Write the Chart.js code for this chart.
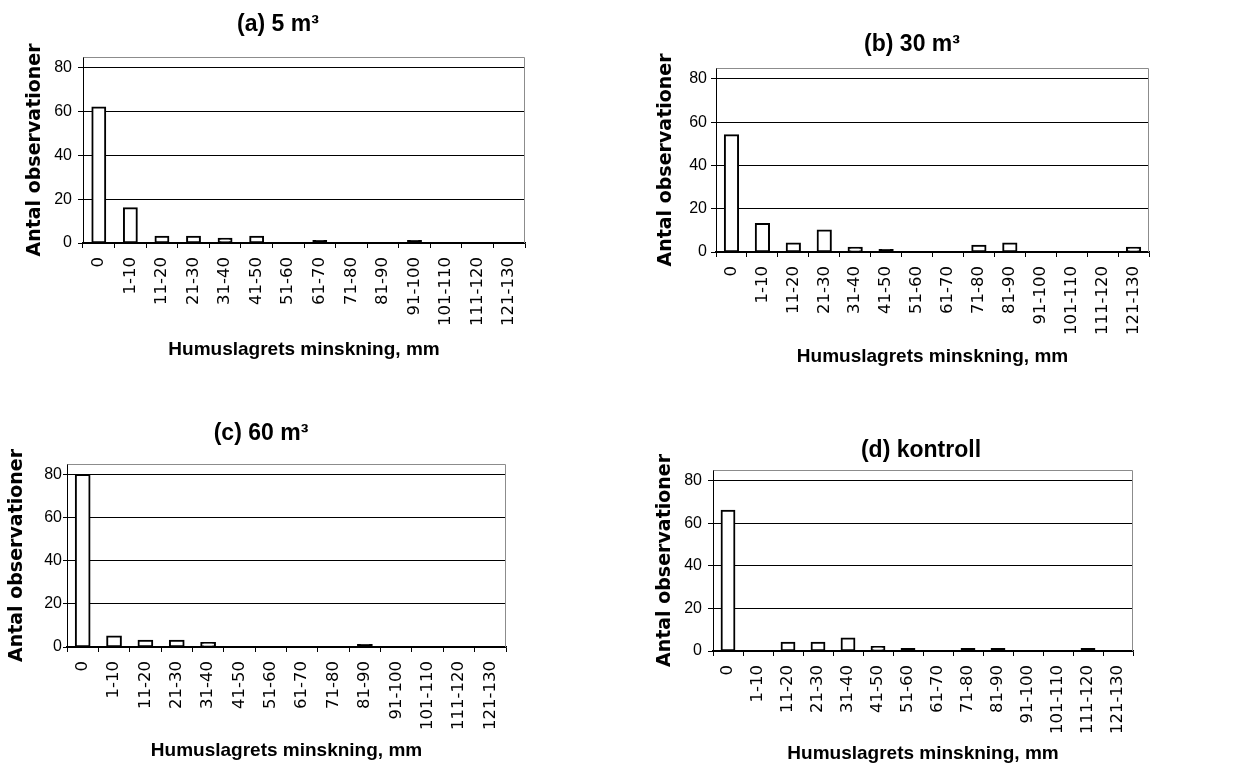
<!DOCTYPE html>
<html><head><meta charset="utf-8">
<script src="https://cdn.jsdelivr.net/npm/chart.js@4.4.1/dist/chart.umd.min.js"></script>
<style>
html,body{margin:0;padding:0;background:#fff;width:1258px;height:767px;overflow:hidden;}
.p{position:absolute;}
</style></head><body>
<div class="p" style="left:0px;top:0px;width:629px;height:385px"><canvas id="ca"></canvas></div>
<div class="p" style="left:629px;top:0px;width:629px;height:385px"><canvas id="cb"></canvas></div>
<div class="p" style="left:0px;top:385px;width:629px;height:382px"><canvas id="cc"></canvas></div>
<div class="p" style="left:629px;top:385px;width:629px;height:382px"><canvas id="cd"></canvas></div>
<script>
// ---- data ----
const categories = ['0','1-10','11-20','21-30','31-40','41-50','51-60','61-70','71-80','81-90','91-100','101-110','111-120','121-130'];
const yTickValues = [0, 20, 40, 60, 80];
const yMax = 85;
const titleA = '(a) 5 m³';
const titleB = '(b) 30 m³';
const titleC = '(c) 60 m³';
const titleD = '(d) kontroll';
const xAxisTitle = 'Humuslagrets minskning, mm';
const yAxisTitle = 'Antal observationer';
const valuesA = [62, 16, 3, 3, 2, 3, 0, 1, 0, 0, 1, 0, 0, 0];
const valuesB = [54, 13, 4, 10, 2, 1, 0, 0, 3, 4, 0, 0, 0, 2];
const valuesC = [80, 5, 3, 3, 2, 0, 0, 0, 0, 1, 0, 0, 0, 0];
const valuesD = [66, 0, 4, 4, 6, 2, 1, 0, 1, 1, 0, 0, 1, 0];

// ---- layout / styling ----
const layoutA = {yw:83, ytl:5, ytp:6, ytt:24.2, tpt:11.2, tpb:18.2, tx:278, xh:142, xtpb:23.6, pr:104, bp:0.42};
const layoutB = {yw:87, ytl:5, ytp:4, ytt:26.2, tpt:31.2, tpb:9.2, tx:283, xh:133, xtpb:16.6, pr:109, bp:0.44};
const layoutC = {yw:67, ytl:4, ytp:1, ytt:6.2, tpt:35.2, tpb:16.2, tx:261, xh:120, xtpb:4.6, pr:123, bp:0.45};
const layoutD = {yw:84, ytl:5, ytp:6, ytt:25.2, tpt:52.2, tpb:5.2, tx:292, xh:116, xtpb:1.6, pr:125, bp:0.44};

const ARIAL = "'Liberation Sans', Arial, sans-serif";
const WIDE = "'DejaVu Sans', 'Liberation Sans', sans-serif";

const framePlugin = {
  id: 'frame',
  afterLayout(chart, args, opts) {
    const t = chart.titleBlock;
    if (t && opts.titleX != null) {
      t.left = opts.titleX - 200;
      t.right = opts.titleX + 200;
      t.width = 400;
    }
  },
  beforeDatasetsDraw(chart, args, opts) {
    const {ctx, chartArea: a} = chart;
    ctx.save();
    ctx.strokeStyle = opts.color || '#8c8c8c';
    ctx.lineWidth = 1;
    const l = Math.round(a.left) + 0.5, t = Math.round(a.top) + 0.5;
    const r = Math.round(a.right) - 0.5, b = Math.round(a.bottom);
    ctx.beginPath();
    ctx.moveTo(l, t); ctx.lineTo(r, t); ctx.lineTo(r, b);
    ctx.stroke();
    ctx.restore();
  }
};

function makeChart(id, title, values, g) {
  return new Chart(document.getElementById(id), {
    type: 'bar',
    data: {
      labels: categories,
      datasets: [{
        data: values,
        // very short bars render as solid outline (thick border fills them)
        backgroundColor: c => (c.raw != null && c.raw <= 1) ? '#000000' : '#ffffff',
        borderColor: '#000000',
        borderWidth: 2,
        borderSkipped: false,
        inflateAmount: 0.8,
        barPercentage: g.bp,
        categoryPercentage: 1
      }]
    },
    plugins: [framePlugin],
    options: {
      responsive: true,
      maintainAspectRatio: false,
      animation: false,
      layout: {padding: {left: 0, top: 0, right: g.pr, bottom: 0}},
      plugins: {
        legend: {display: false},
        tooltip: {enabled: false},
        frame: {titleX: g.tx, color: '#8c8c8c'},
        title: {
          display: true,
          text: title,
          color: '#000',
          font: {family: ARIAL, size: 23, weight: 'bold', lineHeight: 1.2},
          padding: {top: g.tpt, bottom: g.tpb}
        }
      },
      scales: {
        x: {
          offset: true,
          grid: {display: true, drawOnChartArea: false, drawTicks: true, tickLength: 5, tickColor: '#000', offset: true},
          border: {display: true, color: '#000', width: 1.5},
          ticks: {autoSkip: false, minRotation: 90, maxRotation: 90, padding: 9, color: '#000',
                  font: {family: WIDE, size: 16.5}},
          title: {display: true, text: xAxisTitle, color: '#000',
                  font: {family: ARIAL, size: 19, weight: 'bold', lineHeight: 1.2},
                  padding: {top: 0, bottom: g.xtpb}},
          afterFit: s => { s.height = g.xh; }
        },
        y: {
          min: 0, max: yMax,
          afterBuildTicks: s => { s.ticks = yTickValues.map(v => ({value: v})); },
          grid: {color: '#000', lineWidth: 1, drawTicks: true, tickLength: g.ytl, tickColor: '#000'},
          border: {display: true, color: '#000', width: 1},
          ticks: {padding: g.ytp, color: '#000', font: {family: ARIAL, size: 16}},
          title: {display: true, text: yAxisTitle, color: '#000',
                  font: {family: WIDE, size: 19, weight: 'bold', lineHeight: 1.2},
                  padding: {top: g.ytt - 0.6, bottom: 0}},
          afterFit: s => { s.width = g.yw; }
        }
      }
    }
  });
}

makeChart('ca', titleA, valuesA, layoutA);
makeChart('cb', titleB, valuesB, layoutB);
makeChart('cc', titleC, valuesC, layoutC);
makeChart('cd', titleD, valuesD, layoutD);
</script>
</body></html>
